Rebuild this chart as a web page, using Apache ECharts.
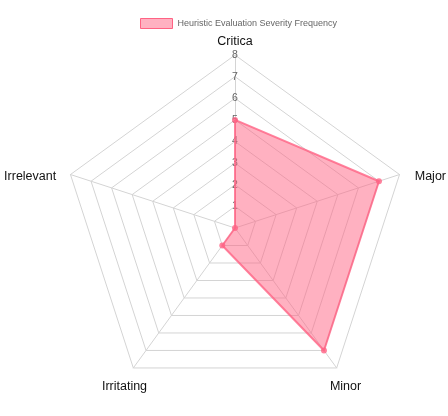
<!DOCTYPE html>
<html>
<head>
<meta charset="utf-8">
<script src="https://cdn.jsdelivr.net/npm/echarts@6/dist/echarts.min.js"></script>
<style>
  html, body { margin: 0; padding: 0; background: #fff; }
  #chart-container { width: 448px; height: 416px; }
</style>
</head>
<body>
<div id="chart-container"></div>
<script>
var seriesName = 'Heuristic Evaluation Severity Frequency';
var categories = ['Critica', 'Major', 'Minor', 'Irritating', 'Irrelevant'];
var counts = [5, 7, 7, 1, 0];
var maxCount = 8;

var myChart = echarts.init(document.getElementById('chart-container'));

// echarts lays radar axes out counter-clockwise, the picture goes clockwise
var order = [0, 4, 3, 2, 1];

// name placement per axis, roughly how chart.js puts them
var namePlace = {
    0: { gap: 7, align: 'center', va: 'bottom' },
    1: { gap: 16, align: 'left', va: 'top' },
    2: { gap: 15, align: 'center', va: 'top' },
    3: { gap: 15, align: 'center', va: 'top' },
    4: { gap: 15, align: 'right', va: 'top' }
};

var indicators = order.map(function (i) {
    var p = namePlace[i];
    var ind = {
        name: categories[i], min: 0, max: maxCount,
        nameGap: p.gap,
        nameTextStyle: { align: p.align, verticalAlign: p.va }
    };
    if (i === 0) {
        // only the first axis carries the tick labels
        ind.axisLabel = {
            show: true,
            showMinLabel: false,
            margin: 0,
            align: 'center',
            verticalAlign: 'middle',
            color: '#666',
            fontSize: 10.5,
            fontFamily: 'Liberation Sans'
        };
    }
    return ind;
});
var values = order.map(function (i) { return counts[i]; });

var option = {
    animation: false,
    legend: {
        left: 135,
        top: 13,
        itemWidth: 32,
        itemHeight: 10,
        icon: 'rect',
        data: [seriesName],
        textStyle: { color: '#666', fontSize: 9, fontFamily: 'Liberation Sans' },
        itemStyle: { color: 'rgba(255,99,132,0.5)', borderColor: 'rgb(255,99,132)', borderWidth: 1 }
    },
    radar: {
        center: [235, 228],
        radius: 173,
        startAngle: 90,
        splitNumber: 8,
        shape: 'polygon',
        axisName: { color: '#111', fontSize: 12.5, fontFamily: 'Liberation Sans' },
        axisLine: { lineStyle: { color: '#d4d4d4', width: 1 } },
        splitLine: { lineStyle: { color: '#d4d4d4', width: 1 } },
        splitArea: { show: false },
        axisTick: { show: false },
        axisLabel: { show: false },
        indicator: indicators
    },
    series: [{
        name: seriesName,
        type: 'radar',
        symbol: 'circle',
        symbolSize: 6,
        lineStyle: { color: 'rgba(255,99,132,0.8)', width: 2 },
        itemStyle: { color: 'rgba(255,99,132,0.8)' },
        areaStyle: { color: 'rgba(255,99,132,0.5)', opacity: 1 },
        data: [{ value: values, name: seriesName }]
    }]
};
myChart.setOption(option);
</script>
</body>
</html>
